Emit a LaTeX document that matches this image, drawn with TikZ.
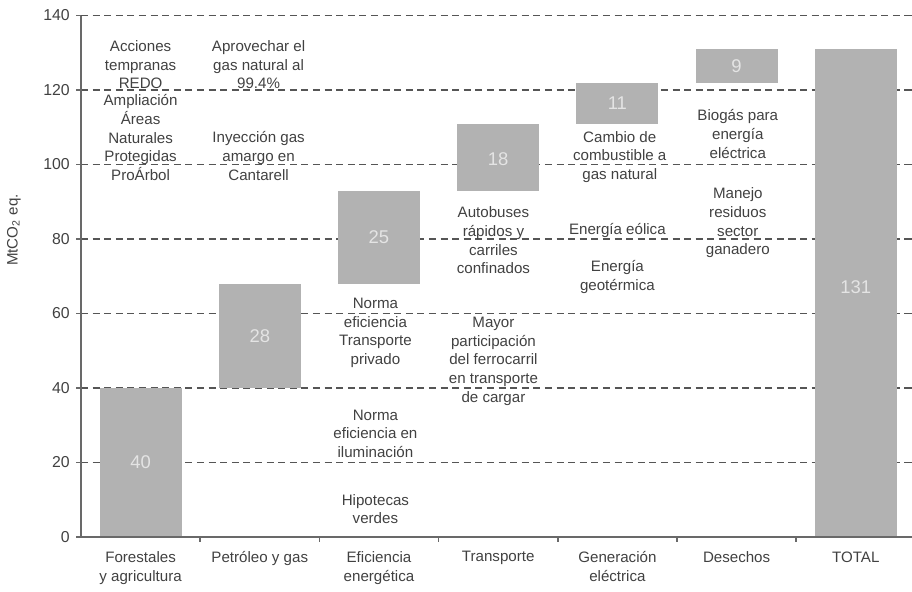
\documentclass[tikz,border=0pt]{standalone}
\usepackage{fontspec}
\setmainfont{Liberation Sans}
\usetikzlibrary{positioning}

\definecolor{barGray}{RGB}{178,178,178}
\definecolor{barText}{RGB}{228,228,228}
\definecolor{inkGray}{RGB}{65,65,65}
\definecolor{gridGray}{RGB}{85,85,85}
\definecolor{axisGray}{RGB}{105,105,105}

\begin{document}
\begin{tikzpicture}[
	x = 2.384cm,
	y = 0.0745cm,
	every node/.style = {
		font = \fontsize{8.6}{10.6}\selectfont,
		text = inkGray,
		inner sep = 0pt
	},
	note/.style = {
		align = center
	},
	grid line/.style = {
		draw = gridGray,
		line width = 0.8pt,
		dash pattern = on 4pt off 2.6pt
	},
	axisline/.style = {
		draw = axisGray,
		line width = 0.9pt
	},
	bar/.style = {
		fill = barGray
	},
	bar value/.style = {
		text = barText,
		font = \fontsize{10.5}{12}\selectfont
	},
	category/.style = {
		anchor = north,
		align = center
	},
	ticklabel/.style = {
		anchor = east,
		xshift = -0.22cm,
		font = \fontsize{9}{11}\selectfont
	}
	]
	\useasboundingbox (-1.62cm,-1.08cm) rectangle (16.62cm,10.74cm);
	
	% grid
	\foreach \v in {20,40,...,140} {
		\draw[grid line] (0,\v) -- (6.97,\v);
	}
	
	% bars
	\foreach \i/\lo/\hi in {1/0/40, 2/40/68, 3/68/93, 4/93/111, 5/111/122, 6/122/131, 7/0/131} {
		\fill[bar] (\i-0.844,\lo) rectangle (\i-0.156,\hi);
	}
	\foreach \i/\val/\vy in {1/40/20, 2/28/54, 3/25/80.5, 4/18/101.5, 5/11/116.5, 6/9/126.5, 7/131/67} {
		\node (val_\i) [bar value] at (\i-0.5,\vy) {\val};
	}
	
	% axes
	\draw[axisline] (0,0) -- (6.97,0);
	\draw[axisline] (0,0) -- (0,140);
	\foreach \v in {0,20,...,140} {
		\draw[axisline] (0,\v) -- (-0.04,\v);
		\node (tick_\v) [ticklabel] at (0,\v) {\v};
	}
	\foreach \i in {1,...,6} {
		\draw[axisline] (\i,0) -- (\i,-1.4);
	}
	\node (ytitle) [rotate = 90] at (-0.562,82.4) {MtCO\textsubscript{2} eq.};
	
	% categories
	\node (cat_1) [category] at (0.5,-3.8) {Forestales\\y agricultura};
	\node (cat_2) [category] at (1.5,-3.8) {Petróleo y gas};
	\node (cat_3) [category] at (2.5,-3.8) {Eficiencia\\energética};
	\node (cat_4) [category] at (3.5,-3.8) {Transporte};
	\node (cat_5) [category] at (4.5,-3.8) {Generación\\eléctrica};
	\node (cat_6) [category] at (5.5,-3.8) {Desechos};
	\node (cat_7) [category] at (6.5,-3.8) {TOTAL};
	
	% measures
	\node (note_1a) [note] at (0.5,126.8) {Acciones\\tempranas\\REDO};
	\node (note_1b) [note] at (0.5,107.2) {Ampliación\\Áreas\\Naturales\\Protegidas\\ProÁrbol};
	\node (note_2a) [note] at (1.49,126.8) {Aprovechar el\\gas natural al\\99.4\%};
	\node (note_2b) [note] at (1.49,102.3) {Inyección gas\\amargo en\\Cantarell};
	\node (note_3a) [note] at (2.47,54.8) {Norma\\eficiencia\\Transporte\\privado};
	\node (note_3b) [note] at (2.47,27.7) {Norma\\eficiencia en\\iluminación};
	\node (note_3c) [note] at (2.47,7.5) {Hipotecas\\verdes};
	\node (note_4a) [note] at (3.46,79.6) {Autobuses\\rápidos y\\carriles\\confinados};
	\node (note_4b) [note] at (3.46,47.2) {Mayor\\participación\\del ferrocarril\\en transporte\\de cargar};
	\node (note_5a) [note] at (4.52,102) {Cambio de\\combustible a\\gas natural};
	\node (note_5b) [note] at (4.5,82.4) {Energía eólica};
	\node (note_5c) [note] at (4.5,69.8) {Energía\\geotérmica};
	\node (note_6a) [note] at (5.51,108.2) {Biogás para\\energía\\eléctrica};
	\node (note_6b) [note] at (5.51,84.3) {Manejo\\residuos\\sector\\ganadero};
	
\end{tikzpicture}
\end{document}
